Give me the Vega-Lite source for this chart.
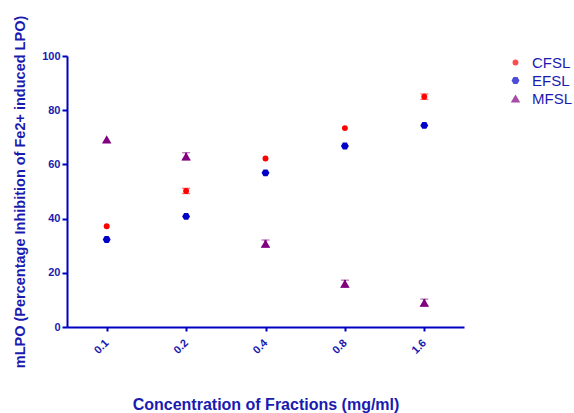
{
  "$schema": "https://vega.github.io/schema/vega-lite/v6.json",
  "width": 397,
  "height": 271,
  "autosize": "none",
  "padding": {"left": 67, "top": 56, "right": 110, "bottom": 86},
  "background": "white",
  "config": {
    "view": {"stroke": null},
    "font": "Liberation Sans"
  },
  "data": {
    "values": [
      {"conc": "0.1", "series": "CFSL", "value": 37.2, "err": 0},
      {"conc": "0.2", "series": "CFSL", "value": 50.2, "err": 1.0},
      {"conc": "0.4", "series": "CFSL", "value": 62.2, "err": 0},
      {"conc": "0.8", "series": "CFSL", "value": 73.4, "err": 0},
      {"conc": "1.6", "series": "CFSL", "value": 85.0, "err": 1.0},
      {"conc": "0.1", "series": "EFSL", "value": 32.3, "err": 0},
      {"conc": "0.2", "series": "EFSL", "value": 40.8, "err": 0},
      {"conc": "0.4", "series": "EFSL", "value": 56.9, "err": 0},
      {"conc": "0.8", "series": "EFSL", "value": 66.8, "err": 0},
      {"conc": "1.6", "series": "EFSL", "value": 74.4, "err": 0},
      {"conc": "0.1", "series": "MFSL", "value": 69.2, "err": 0},
      {"conc": "0.2", "series": "MFSL", "value": 63.0, "err": 1.3},
      {"conc": "0.4", "series": "MFSL", "value": 30.8, "err": 1.3},
      {"conc": "0.8", "series": "MFSL", "value": 16.0, "err": 1.3},
      {"conc": "1.6", "series": "MFSL", "value": 9.0, "err": 1.3}
    ]
  },
  "encoding": {
    "x": {
      "field": "conc", "type": "ordinal",
      "scale": {"type": "point", "padding": 0.5},
      "sort": ["0.1", "0.2", "0.4", "0.8", "1.6"],
      "axis": {
        "title": "Concentration of Fractions (mg/ml)",
        "titleFontSize": 16, "titleFontWeight": "bold", "titleColor": "#1a1ab0",
        "titlePadding": 41,
        "labelAngle": -45, "labelAlign": "right", "labelBaseline": "middle",
        "labelFontSize": 11, "labelFontWeight": "bold", "labelColor": "#1a1ab0",
        "labelPadding": 10, "labelDx": -2,
        "domainColor": "#0000c0", "domainWidth": 2,
        "tickColor": "#0000c0", "tickWidth": 2, "tickSize": 4,
        "grid": false
      }
    },
    "y": {
      "field": "value", "type": "quantitative",
      "scale": {"domain": [0, 100]},
      "axis": {
        "title": "mLPO (Percentage  Inhibition of Fe2+  induced LPO)",
        "titleFontSize": 14.5, "titleFontWeight": "bold", "titleColor": "#1a1ab0",
        "titlePadding": 14,
        "values": [0, 20, 40, 60, 80, 100],
        "labelFontSize": 11, "labelFontWeight": "bold", "labelColor": "#1a1ab0",
        "domainColor": "#0000c0", "domainWidth": 2,
        "tickColor": "#0000c0", "tickWidth": 2, "tickSize": 5,
        "grid": false
      }
    }
  },
  "layer": [
    {
      "transform": [{"filter": "datum.err > 0"}],
      "mark": {"type": "errorbar", "ticks": {"size": 8, "strokeWidth": 2}, "rule": {"strokeWidth": 2}},
      "encoding": {
        "yError": {"field": "err"},
        "color": {"field": "series", "type": "nominal",
          "scale": {"domain": ["CFSL", "EFSL", "MFSL"], "range": ["#ff0000", "#0000c8", "#800080"]}}
      }
    },
    {
      "mark": {"type": "point", "filled": true, "opacity": 1},
      "encoding": {
        "color": {
          "field": "series", "type": "nominal",
          "scale": {"domain": ["CFSL", "EFSL", "MFSL"], "range": ["#ff0000", "#0000c8", "#800080"]},
          "legend": {
            "title": null, "orient": "none", "legendX": 441, "legendY": -1,
            "labelFontSize": 15, "labelColor": "#1a1ab0", "labelOffset": 9,
            "rowPadding": 2, "symbolStrokeWidth": 0, "symbolOpacity": 1
          }
        },
        "shape": {
          "field": "series", "type": "nominal",
          "scale": {"domain": ["CFSL", "EFSL", "MFSL"], "range": ["circle", "M-1,0L-0.5,-0.866L0.5,-0.866L1,0L0.5,0.866L-0.5,0.866Z", "triangle-up"]}
        },
        "size": {
          "field": "series", "type": "nominal",
          "scale": {"domain": ["CFSL", "EFSL", "MFSL"], "range": [35, 90, 60]}
        }
      }
    }
  ]
}
